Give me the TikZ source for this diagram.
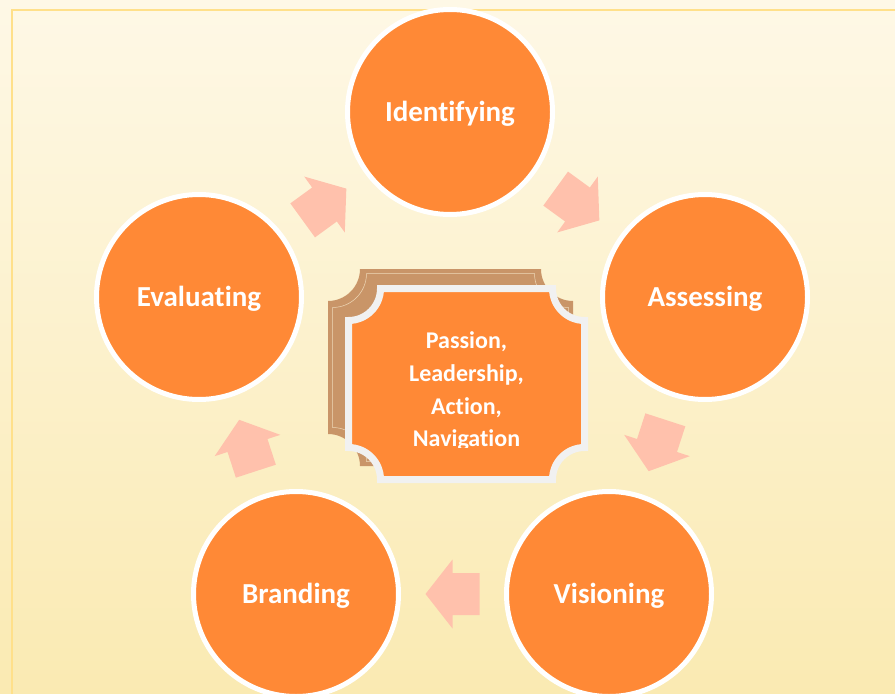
\documentclass[tikz,border=0pt]{standalone}
\usepackage{fontspec}
\setmainfont{Carlito}[Ligatures={NoCommon}]
\usetikzlibrary{calc}
\definecolor{bgtop}{HTML}{FEF8E6}
\definecolor{bgbot}{HTML}{FAEAB2}
\definecolor{framec}{HTML}{FFE08A}
\definecolor{orangec}{HTML}{FF8936}
\definecolor{arrowc}{HTML}{FFC1AC}
\definecolor{brownc}{HTML}{C99568}
\definecolor{brownline}{HTML}{EFD9B8}
\definecolor{lightc}{HTML}{F1F1F1}
\begin{document}
\begin{tikzpicture}[x=1bp,y=-1bp,
  circ/.style={circle, draw=white, line width=5bp, fill=orangec, minimum size=205bp,
    inner sep=0pt, text=white, font=\bfseries\fontsize{29bp}{34bp}\selectfont,
    text height=18.5bp, text depth=0bp},
  core/.style={text=white, align=center, inner sep=0pt,
    font=\bfseries\fontsize{24bp}{32.7bp}\selectfont},
  blockarrow/.style={fill=arrowc},
  plaque/.style n args={5}{insert path={
    ({#1+#5},#2) -- ({#3-#5},#2)
    .. controls ({#3-#5},{#2+0.5523*#5}) and ({#3-0.5523*#5},{#2+#5}) .. (#3,{#2+#5})
    -- (#3,{#4-#5})
    .. controls ({#3-0.5523*#5},{#4-#5}) and ({#3-#5},{#4-0.5523*#5}) .. ({#3-#5},#4)
    -- ({#1+#5},#4)
    .. controls ({#1+#5},{#4-0.5523*#5}) and ({#1+0.5523*#5},{#4-#5}) .. (#1,{#4-#5})
    -- (#1,{#2+#5})
    .. controls ({#1+0.5523*#5},{#2+#5}) and ({#1+#5},{#2+0.5523*#5}) .. ({#1+#5},#2)
    -- cycle}}]
\useasboundingbox (0,0) rectangle (895,694);
\clip (0,0) rectangle (895,694);
\shade[top color=bgtop, bottom color=bgbot] (0,0) rectangle (895,694);
\draw[framec, line width=1.8bp] (11.8,10.3) rectangle (910,710);

\node[circ] (ident) at (450,112) {Identifying};
\node[circ] (assess) at (705,297) {Assessing};
\node[circ] (vision) at (609,594) {Visioning};
\node[circ] (brand) at (296,594) {Branding};
\node[circ] (eval) at (199,297) {Evaluating};

\fill[blockarrow, shift={($(eval)!0.5!(ident)$)}, rotate=36]
  (-27,-21) -- (0,-21) -- (0,-34.5) -- (27,0) -- (0,34.5) -- (0,21) -- (-27,21) -- cycle;
\fill[blockarrow, shift={($(ident)!0.5!(assess)$)}, rotate=-36]
  (-27,-21) -- (0,-21) -- (0,-34.5) -- (27,0) -- (0,34.5) -- (0,21) -- (-27,21) -- cycle;
\fill[blockarrow, shift={($(assess)!0.5!(vision)$)}, rotate=-108]
  (-27,-21) -- (0,-21) -- (0,-34.5) -- (27,0) -- (0,34.5) -- (0,21) -- (-27,21) -- cycle;
\fill[blockarrow, shift={($(vision)!0.5!(brand)$)}, rotate=180]
  (-27,-21) -- (0,-21) -- (0,-34.5) -- (27,0) -- (0,34.5) -- (0,21) -- (-27,21) -- cycle;
\fill[blockarrow, shift={($(brand)!0.5!(eval)$)}, rotate=108]
  (-27,-21) -- (0,-21) -- (0,-34.5) -- (27,0) -- (0,34.5) -- (0,21) -- (-27,21) -- cycle;

\fill[brownc] [plaque={328}{269}{573}{466}{32}];
\draw[brownline, line width=0.5bp] [plaque={332.5}{273.5}{568.5}{461.5}{34}];
\draw[lightc, line width=7bp, fill=orangec] [plaque={348.5}{288.5}{584.5}{479.5}{32}];

\begin{scope}
\clip (352,292) rectangle (581,447);
\node[core] (core) at (466.5,391.5) {Passion,\\Leadership,\\Action,\\Navigation};
\end{scope}
\end{tikzpicture}
\end{document}
